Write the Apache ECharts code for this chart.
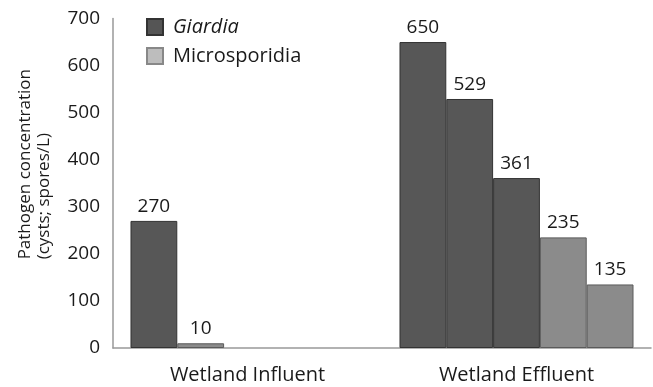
<!DOCTYPE html>
<html>
<head>
<meta charset="utf-8">
<script src="https://cdn.jsdelivr.net/npm/echarts@6/dist/echarts.min.js"></script>
<style>
  html, body { margin: 0; padding: 0; background: #fff; }
  #chart { width: 653px; height: 387px; }
</style>
</head>
<body>
<div id="chart"></div>
<script>
let categories = ['Wetland Influent', 'Wetland Effluent']
// bars in each group, left to right
let giardiaInfluent = [270]
let microInfluent = [10]
let giardiaEffluent = [650, 529, 361]
let microEffluent = [235, 135]
let yTicks = [0, 100, 200, 300, 400, 500, 600, 700]

let darkBar = '#575757'
let lightBar = '#8b8b8b'
let font = 'Open Sans'

function groupItems(giardia, micro) {
  let items = []
  giardia.forEach(v => items.push({value: v, itemStyle: {color: darkBar, borderColor: '#333'}}))
  micro.forEach(v => items.push({value: v, itemStyle: {color: lightBar, borderColor: '#5a5a5a'}}))
  return items
}

let groups = [
  groupItems(giardiaInfluent, microInfluent),
  groupItems(giardiaEffluent, microEffluent)
]
let slotCount = Math.max(...groups.map(g => g.length))

let series = []
for (let s = 0; s < slotCount; s++) {
  series.push({
    type: 'bar',
    name: 'slot' + s,
    barGap: '0%',
    barCategoryGap: '13%',
    itemStyle: {borderWidth: 1},
    label: {
      show: true,
      position: 'top',
      distance: 5,
      color: '#1a1a1a',
      fontFamily: font,
      fontSize: 19
    },
    data: groups.map(g => g[s] ? g[s] : '-')
  })
}
// legend only entries, kept on a hidden axis so they do not take bar slots
series.push({
  type: 'bar', name: 'Giardia', xAxisIndex: 1, data: [],
  itemStyle: {color: '#555', borderColor: '#333', borderWidth: 1}
})
series.push({
  type: 'bar', name: 'Microsporidia', xAxisIndex: 1, data: [],
  itemStyle: {color: '#bdbdbd', borderColor: '#888', borderWidth: 1}
})

let legendText = {fontFamily: font, fontSize: 20, color: '#1a1a1a', padding: [0, 0, 0, 5]}

let myChart = echarts.init(document.getElementById('chart'))
myChart.setOption({
  animation: false,
  grid: {
    left: 113,
    right: 2,
    top: 18.5,
    bottom: 39
  },
  legend: {
    data: ['Giardia', 'Microsporidia'],
    orient: 'vertical',
    left: 141,
    top: 12,
    itemWidth: 16,
    itemHeight: 16,
    itemGap: 9,
    icon: 'rect',
    textStyle: {
      fontFamily: font,
      fontSize: 20,
      rich: {
        i: Object.assign({fontStyle: 'italic'}, legendText),
        n: legendText
      }
    },
    formatter: name => name === 'Giardia' ? '{i|' + name + '}' : '{n|' + name + '}'
  },
  xAxis: [{
    type: 'category',
    data: categories,
    axisTick: {show: false},
    axisLine: {lineStyle: {color: '#999', width: 1.5}},
    axisLabel: {
      color: '#1a1a1a',
      fontFamily: font,
      fontSize: 20,
      margin: 17
    }
  }, {
    type: 'category',
    data: categories,
    show: false
  }],
  yAxis: {
    type: 'value',
    min: yTicks[0],
    max: yTicks[yTicks.length - 1],
    interval: yTicks[1] - yTicks[0],
    axisTick: {show: false},
    axisLine: {show: true, lineStyle: {color: '#999', width: 1.5}},
    splitLine: {show: false},
    axisLabel: {
      color: '#1a1a1a',
      fontFamily: font,
      fontSize: 19,
      margin: 13
    }
  },
  graphic: [{
    type: 'text',
    left: 16,
    top: 69,
    style: {
      text: 'Pathogen concentration\n(cysts; spores/L)',
      fill: '#1a1a1a',
      font: '17px ' + font,
      align: 'center',
      lineHeight: 19
    },
    rotation: Math.PI / 2
  }],
  series: series
})
</script>
</body>
</html>
